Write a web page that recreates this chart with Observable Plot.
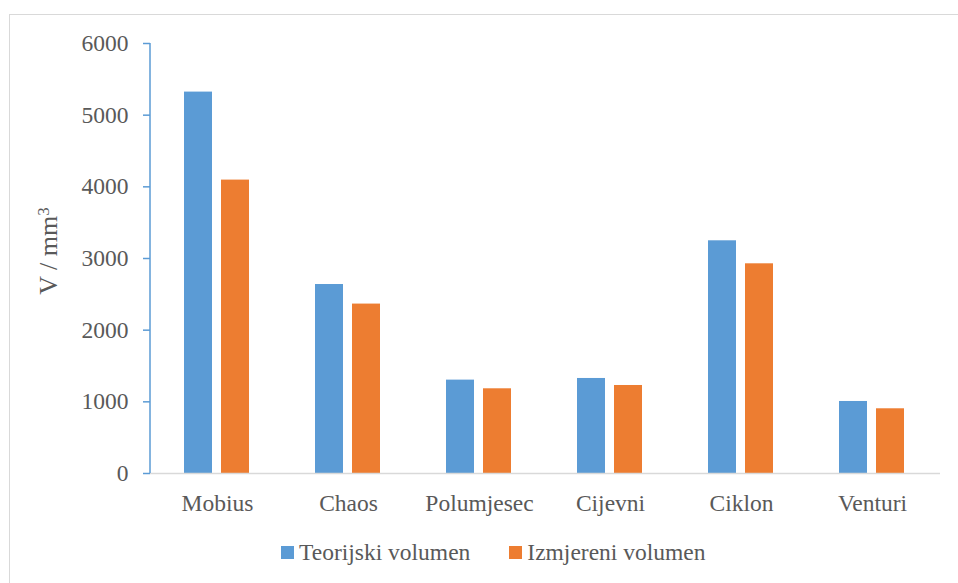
<!DOCTYPE html>
<html>
<head>
<meta charset="utf-8">
<script src="https://cdn.jsdelivr.net/npm/d3@7"></script>
<script src="https://cdn.jsdelivr.net/npm/@observablehq/plot@0.6"></script>
<style>
  html, body { margin: 0; padding: 0; background: #fff; }
  #wrap { position: relative; width: 958px; height: 583px; overflow: hidden; font-family: "Liberation Serif", "Times New Roman", serif; }
  #border { position: absolute; left: 9px; top: 14px; width: 980px; height: 600px; border: 1px solid #d9d9d9; box-sizing: border-box; }
  #chart, #axis { position: absolute; left: 0; top: 0; }
  #legend { position: absolute; left: 281px; top: 539px; display: flex; align-items: center; font-family: "Liberation Serif", "Times New Roman", serif; font-size: 23.5px; color: #595959; white-space: nowrap; }
  .item { display: flex; align-items: center; }
  .sw { width: 13px; height: 13px; margin-right: 5px; }
</style>
</head>
<body>
<div id="wrap">
  <div id="border"></div>
  <div id="chart"></div>
  <div id="axis"></div>
  <div id="legend"></div>
</div>
<script>
const categories = ["Mobius", "Chaos", "Polumjesec", "Cijevni", "Ciklon", "Venturi"];
const seriesNames = ["Teorijski volumen", "Izmjereni volumen"];
const teorijski = [5322, 2637, 1303, 1326, 3247, 1005];
const izmjereni = [4094, 2364, 1182, 1228, 2926, 903];
const yTicks = [0, 1000, 2000, 3000, 4000, 5000, 6000];
const colors = ["#5b9bd5", "#ed7d31"];
const yLabel = "V / mm";
const ySup = "3";

const rows = categories.flatMap((c, i) => [
  {cat: c, series: seriesNames[0], value: teorijski[i]},
  {cat: c, series: seriesNames[1], value: izmjereni[i]}
]);

const W = 958, H = 520;
const mL = 150, mR = 18, mT = 43, mB = 47;
const serif = "'Liberation Serif', 'Times New Roman', serif";
const baseStyle = {fontFamily: serif, fontSize: "23.5px", color: "#595959", background: "transparent"};

// Bars + category labels (faceted by category)
const chart = Plot.plot({
  width: W, height: H,
  marginLeft: mL, marginRight: mR, marginTop: mT, marginBottom: mB,
  style: baseStyle,
  fx: {domain: categories, paddingInner: 0.493, paddingOuter: 0.2465, label: null, axis: null},
  x: {domain: seriesNames, paddingInner: 0.23, paddingOuter: 0, axis: null},
  y: {domain: [0, 6000], axis: null},
  color: {domain: seriesNames, range: colors},
  marks: [
    Plot.barY(rows, {fx: "cat", x: "series", y: "value", fill: "series"}),
    Plot.axisFx({anchor: "bottom", tickSize: 0, tickPadding: 21, label: null, fill: "#595959", fontSize: "23.5px"})
  ]
});
document.getElementById("chart").appendChild(chart);

// Y axis + baseline (unfaceted overlay with the same y scale)
const axis = Plot.plot({
  width: W, height: H,
  marginLeft: mL, marginRight: mR, marginTop: mT, marginBottom: mB,
  style: baseStyle,
  y: {domain: [0, 6000], axis: null},
  marks: [
    Plot.ruleY([0], {stroke: "#d9d9d9", strokeWidth: 1.5}),
    Plot.axisY({ticks: yTicks, tickSize: 7, tickPadding: 15, label: null, stroke: "#5b9bd5", strokeWidth: 1.5, fill: "#595959", tickFormat: d => String(d), fontSize: "23.5px"})
  ]
});
document.getElementById("axis").appendChild(axis);

const y = axis.scale("y");
const svg = d3.select(axis);
svg.append("line")
  .attr("x1", mL).attr("x2", mL)
  .attr("y1", y.apply(6000)).attr("y2", y.apply(0))
  .attr("stroke", "#5b9bd5").attr("stroke-width", 1.5);

// Y label
const t = svg.append("text")
  .attr("transform", `translate(57,${(y.apply(0) + y.apply(6000)) / 2 - 7}) rotate(-90)`)
  .attr("text-anchor", "middle")
  .attr("fill", "#595959")
  .style("font-size", "26px")
  .style("font-family", serif);
t.append("tspan").text(yLabel);
t.append("tspan").attr("dy", "-0.45em").style("font-size", "17px").text(ySup);

// Legend
const legend = d3.select("#legend");
seriesNames.forEach((s, i) => {
  const it = legend.append("div").attr("class", "item").style("margin-right", i === 0 ? "39px" : "0");
  it.append("div").attr("class", "sw").style("background", colors[i]);
  it.append("span").text(s);
});
</script>
</body>
</html>
